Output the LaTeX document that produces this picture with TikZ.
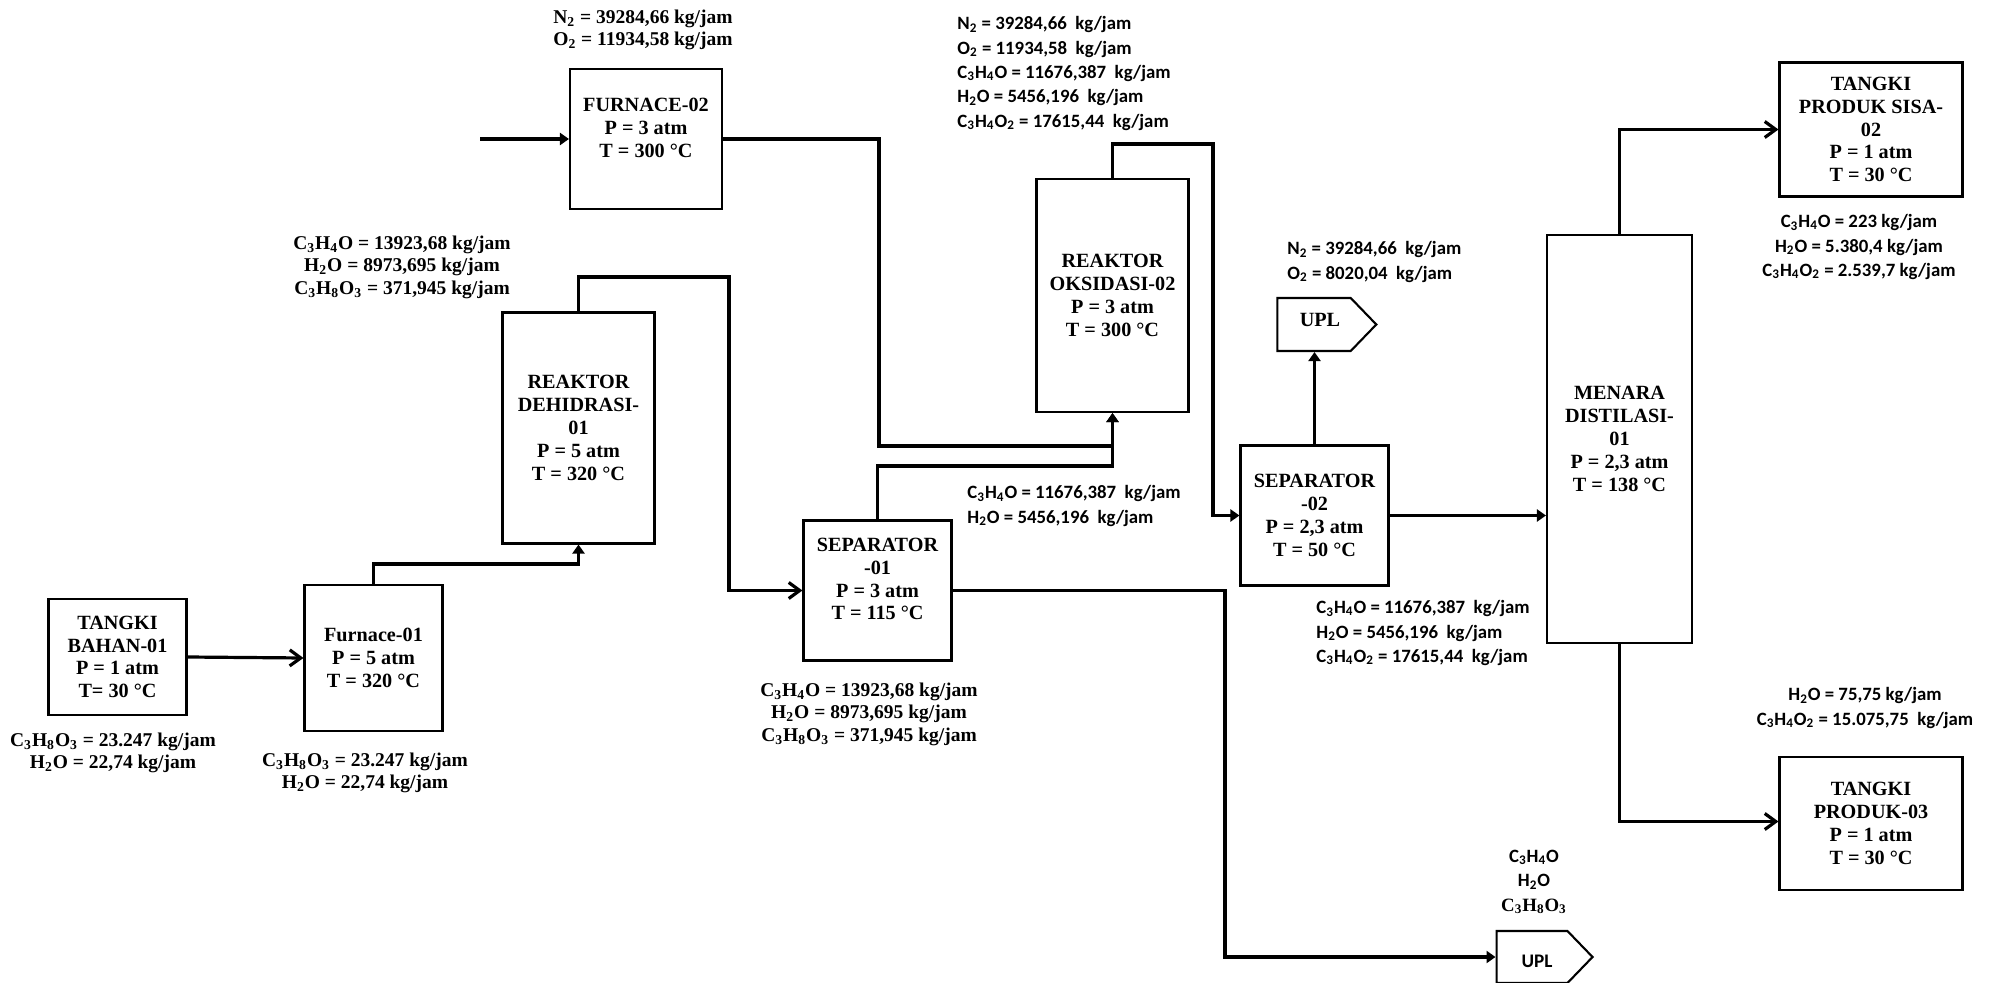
\documentclass[tikz,border=0pt]{standalone}
\usepackage{fontspec}
\usepackage{tikz}
\usetikzlibrary{arrows.meta, shapes.symbols}
\setmainfont{Liberation Serif}
\newfontfamily\calibrifont{Carlito}

\tikzset{
    unit/.style = {draw, line width = 1.05pt, align = center, inner sep = 0pt, font = \bfseries\fontsize{10.1}{11.4}\selectfont},
    stream/.style = {align = center, inner sep = 0pt, font = \bfseries\fontsize{9.75}{11.3}\selectfont},
    streamcal/.style = {align = center, inner sep = 0pt, font = \calibrifont\bfseries\fontsize{9.4}{12.2}\selectfont},
    streamleft/.style = {streamcal, align = left, anchor = west},
    waste/.style = {unit, signal, signal to = east, signal pointer angle = 92},
    line/.style = {line width = 1.6pt},
    openline/.style = {line, -{Straight Barb[length = 5.5pt, width = 8pt]}},
    fillline/.style = {line, -{Triangle[length = 4.5pt, width = 6pt]}}
}

\begin{document}
\begin{tikzpicture}[x = 0.5pt, y = -0.5pt]
    \useasboundingbox (0,0) rectangle (1995,983);

    \node [unit, minimum width = 69pt, minimum height = 58pt] (tangkiA) at (117.5,657) {TANGKI\\BAHAN-01\\P = 1 atm\\T= 30 °C};
    \node [unit, minimum width = 69pt, minimum height = 73pt] (furnaceA) at (373.5,658) {Furnace-01\\P = 5 atm\\T = 320 °C};
    \node [unit, minimum width = 76pt, minimum height = 115.5pt] (reaktorA) at (578.5,428) {REAKTOR\\DEHIDRASI-\\01\\P = 5 atm\\T = 320 °C};
    \node [unit, minimum width = 74pt, minimum height = 70pt] (separatorA) at (877.5,590.5) {SEPARATOR\\-01\\P = 3 atm\\T = 115 °C\\~};
    \node [unit, minimum width = 76pt, minimum height = 70pt] (furnaceB) at (646,139) {FURNACE-02\\P = 3 atm\\T = 300 °C\\~};
    \node [unit, minimum width = 76pt, minimum height = 116.5pt] (reaktorB) at (1112.5,295.5) {REAKTOR\\OKSIDASI-02\\P = 3 atm\\T = 300 °C};
    \node [unit, minimum width = 74pt, minimum height = 70pt] (separatorB) at (1314.5,515.5) {SEPARATOR\\-02\\P = 2,3 atm\\T = 50 °C};
    \node [unit, minimum width = 72.5pt, minimum height = 204pt] (menara) at (1619.5,439) {MENARA\\DISTILASI-\\01\\P = 2,3 atm\\T = 138 °C};
    \node [unit, minimum width = 91.5pt, minimum height = 67pt] (tangkiB) at (1871,129.5) {TANGKI\\PRODUK SISA-\\02\\P = 1 atm\\T = 30 °C};
    \node [unit, minimum width = 91.5pt, minimum height = 66.5pt] (tangkiC) at (1871,823.5) {TANGKI\\PRODUK-03\\P = 1 atm\\T = 30 °C};
    \node [waste, minimum width = 49.5pt, minimum height = 26.5pt, text depth = 5pt] (uplA) at (1314,324.5) {\hspace*{6pt}UPL};
    \node [waste, minimum width = 48pt, minimum height = 26pt, text height = 10.6pt, font = \calibrifont\bfseries\fontsize{9.6}{12}\selectfont] (uplB) at (1532,957) {\hspace*{5pt}UPL};

    \node [stream] (streamA) at (113,753) {C\textsubscript{3}H\textsubscript{8}O\textsubscript{3} = 23.247 kg/jam\\H\textsubscript{2}O = 22,74 kg/jam};
    \node [stream] (streamB) at (365,773) {C\textsubscript{3}H\textsubscript{8}O\textsubscript{3} = 23.247 kg/jam\\H\textsubscript{2}O = 22,74 kg/jam};
    \node [stream] (streamC) at (643,30) {N\textsubscript{2} = 39284,66 kg/jam\\O\textsubscript{2} = 11934,58 kg/jam};
    \node [stream] (streamD) at (402,267) {C\textsubscript{3}H\textsubscript{4}O = 13923,68 kg/jam\\H\textsubscript{2}O = 8973,695 kg/jam\\C\textsubscript{3}H\textsubscript{8}O\textsubscript{3} = 371,945 kg/jam};
    \node [stream] (streamE) at (869,714) {C\textsubscript{3}H\textsubscript{4}O = 13923,68 kg/jam\\H\textsubscript{2}O = 8973,695 kg/jam\\C\textsubscript{3}H\textsubscript{8}O\textsubscript{3} = 371,945 kg/jam};
    \node [streamleft] (streamF) at (957,73.5) {N\textsubscript{2} = 39284,66 ~kg/jam\\O\textsubscript{2} = 11934,58 ~kg/jam\\C\textsubscript{3}H\textsubscript{4}O = 11676,387 ~kg/jam\\H\textsubscript{2}O = 5456,196 ~kg/jam\\C\textsubscript{3}H\textsubscript{4}O\textsubscript{2} = 17615,44 ~kg/jam};
    \node [streamleft] (streamG) at (1287,262) {N\textsubscript{2} = 39284,66 ~kg/jam\\O\textsubscript{2} = 8020,04 ~kg/jam};
    \node [streamleft] (streamH) at (967,506) {C\textsubscript{3}H\textsubscript{4}O = 11676,387 ~kg/jam\\H\textsubscript{2}O = 5456,196 ~kg/jam};
    \node [streamleft] (streamI) at (1316,633) {C\textsubscript{3}H\textsubscript{4}O = 11676,387 ~kg/jam\\H\textsubscript{2}O = 5456,196 ~kg/jam\\C\textsubscript{3}H\textsubscript{4}O\textsubscript{2} = 17615,44 ~kg/jam};
    \node [streamcal] (streamJ) at (1859,247) {C\textsubscript{3}H\textsubscript{4}O = 223 kg/jam\\H\textsubscript{2}O = 5.380,4 kg/jam\\C\textsubscript{3}H\textsubscript{4}O\textsubscript{2} = 2.539,7 kg/jam};
    \node [streamcal] (streamK) at (1865,708) {H\textsubscript{2}O = 75,75 kg/jam\\C\textsubscript{3}H\textsubscript{4}O\textsubscript{2} = 15.075,75 ~kg/jam};
    \node [streamcal] (streamL) at (1534,882) {C\textsubscript{3}H\textsubscript{4}O\\H\textsubscript{2}O\\{\rmfamily\bfseries C\textsubscript{3}H\textsubscript{8}O\textsubscript{3}}};

    \coordinate (feed) at (480,139);

    \draw [openline] (tangkiA.east) -- (furnaceA.west);
    \draw [fillline] (furnaceA.north) |- (578.5,564) -- (reaktorA.south);
    \draw [openline] (reaktorA.north) -- (578.5,277) -- (729,277) |- (separatorA.west);
    \draw [fillline] (separatorA.north) |- (1112.5,466) -- (reaktorB.south);
    \draw [fillline] (furnaceB.east) -- (879,139) |- (1112.5,446) -- (reaktorB.south);
    \draw [fillline] (feed) -- (furnaceB.west);
    \draw [fillline] (reaktorB.north) -- (1112.5,144) -- (1213,144) |- (separatorB.west);
    \draw [fillline] (separatorB.north) -- (uplA.south -| separatorB.north);
    \draw [fillline] (separatorB.east) -- (separatorB.east -| menara.west);
    \draw [openline] (menara.north) |- (tangkiB.west);
    \draw [openline] (menara.south) |- ([yshift = 1pt]tangkiC.west);
    \draw [fillline] (separatorA.east) -| (1225,770) |- (uplB.west);
\end{tikzpicture}
\end{document}
